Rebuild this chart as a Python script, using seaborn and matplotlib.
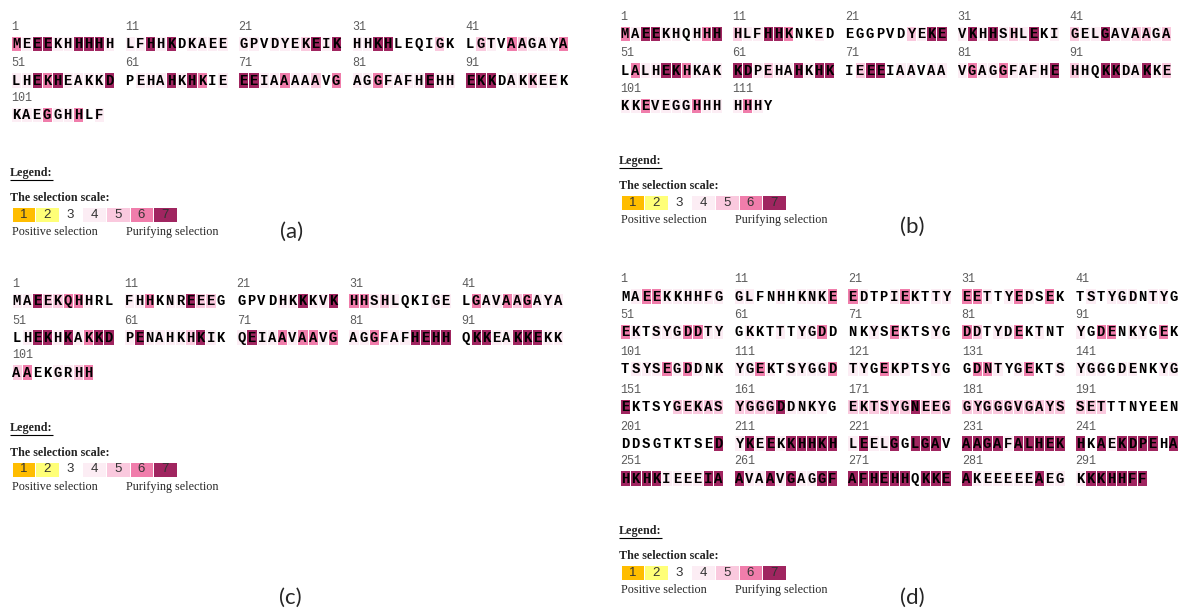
import numpy as np
import pandas as pd
import matplotlib
matplotlib.use("Agg")
import matplotlib.pyplot as plt
from matplotlib.colors import ListedColormap
import seaborn as sns

# ---------------------------------------------------------------------------
# Selection scale (1 = positive selection ... 7 = purifying selection)
# ---------------------------------------------------------------------------
SCALE_LEVELS = [1, 2, 3, 4, 5, 6, 7]
SCALE_COLORS = ["#FFBD00", "#FFFF78", "#FFFFFF", "#FCEDF4",
                "#FAC9DE", "#F07DAB", "#A02560"]

# ---------------------------------------------------------------------------
# Sequences (blocks of ten residues) and per-residue selection scores
# ---------------------------------------------------------------------------
SEQ_A = ["MEEEKHHHHH", "LFHHKDKAEE", "GPVDYEKEIK", "HHKHLEQIGK", "LGTVAAGAYA",
         "LHEKHEAKKD", "PEHAHKHKIE", "EEIAAAAAVG", "AGGFAFHEHH", "EKKDAKKEEK",
         "KAEGGHHLF"]
SCORE_A = ["6477447774", "4474734444", "4434445747", "4477333353", "3543654446",
           "4476744447", "3444747634", "7744644536", "4464444744", "7773445443",
           "444644634"]

SEQ_B = ["MAEEKHQHHH", "HLFHHKNKED", "EGGPVDYEKE", "VKHHSHLEKI", "GELGAVAAGA",
         "LALHEKHKAK", "KDPEHAHKHK", "IEEEIAAVAA", "VGAGGFAFHE", "HHQKKDAKKE",
         "KKEVEGGHHH", "HHHY"]
SCORE_B = ["6477443467", "5447763343", "3333335477", "4747454734", "5447445545",
           "3644776444", "7745447477", "3577344344", "4644644447", "5437744745",
           "4464444644", "4643"]

SEQ_C = ["MAEEKQHHRL", "FHHKNREEEG", "GPVDHKKKVK", "HHSHLQKIGE", "LGAVAAGAYA",
         "LHEKHKAKKD", "PENAHKHKIK", "QEIAAVAAVG", "AGGFAFHEHH", "QKKEAKKEKK",
         "AAEKGRHH"]
SCORE_C = ["4475566433", "4463447553", "3333447447", "6645433344", "3644656444",
           "3477474677", "4744445743", "4744646646", "4464447777", "3774477744",
           "56334456"]

SEQ_D = ["MAEEKKHHFG", "GLFNHHKNKE", "EDTPIEKTTY", "EETTYEDSEK", "TSTYGDNTYG",
         "EKTSYGDDTY", "GKKTTTYGDD", "NKYSEKTSYG", "DDTYDEKTNT", "YGDENKYGEK",
         "TSYSEGDDNK", "YGEKTSYGGD", "TYGEKPTSYG", "GDNTYGEKTS", "YGGGDENKYG",
         "EKTSYGEKAS", "YGGGDDNKYG", "EKTSYGNEEG", "GYGGGVGAYS", "SETTTNYEEN",
         "DDSGTKTSED", "YKEEKKHHKH", "LEELGGLGAV", "AAGAFALHEK", "HKAEKDPEHA",
         "HKHKIEEEIA", "AVAAVGAGGF", "AFHEHHQKKE", "AKEEEEEAEG", "KKKHHFF"]
SCORE_D = ["3466444444", "4433434446", "6433464344", "6643464363", "3434443443",
           "6434446644", "3433434463", "3343643343", "6534463433", "4366344363",
           "3444646434", "4464344446", "4436443343", "3664346334", "4443443344",
           "7333355555", "5555744443", "5555557555", "5555555555", "5553333333",
           "3333333337", "4747477777", "4744737773", "7777477777", "7374777737",
           "7777444477", "7447474477", "7777773777", "7444444744", "4777777"]

PANEL_TAGS = ["(a)", "(b)", "(c)", "(d)"]
LEGEND_TITLE = "Legend:"
SCALE_TITLE = "The selection scale:"
LOW_LABEL = "Positive selection"
HIGH_LABEL = "Purifying selection"

# ---------------------------------------------------------------------------
# Page geometry (pixels, origin top-left)
# ---------------------------------------------------------------------------
W, H, DPI = 1182, 615, 100
PER_LINE, BLOCK = 50, 10
NCOL = PER_LINE + PER_LINE // BLOCK - 1      # 50 residues + 4 spacer columns
BOX_H = 15.5                                  # height of one sequence line
NUM_DY = 16.5                                 # position numbers sit above each line
SEQ_SIZE = 10.0
CAP_PX = 0.659 * SEQ_SIZE * DPI / 72          # cap height of the residue letters

LAYOUT = [
    dict(x0=11.0, pitch=10.32, rows=[43.3, 80.0, 114.3],
         legend=(10, 173), tag=(292, 232)),
    dict(x0=619.5, pitch=10.22, rows=[33.3, 70.0, 105.7],
         legend=(619, 161), tag=(912, 227)),
    dict(x0=11.5, pitch=10.21, rows=[300.3, 337.0, 372.0],
         legend=(10, 428), tag=(290, 598)),
    dict(x0=620.0, pitch=10.34, rows=[296.0, 331.7, 368.3, 406.3, 443.0, 478.0],
         legend=(619, 531), tag=(912, 598)),
]

sns.set_theme(style="white")
plt.rcParams["font.family"] = ["DejaVu Sans"]

CMAP = ListedColormap(SCALE_COLORS)
SEQ_FONT = dict(fontfamily="Liberation Mono", fontweight="bold",
                fontsize=SEQ_SIZE, color="black")
NUM_FONT = dict(fontfamily="Liberation Mono", fontsize=8.5, color="#5c5c5c")
SERIF = "Liberation Serif"


def px_rect(x, y, w, h):
    """Figure-fraction rectangle from a top-left pixel box."""
    return [x / W, 1 - (y + h) / H, w / W, h / H]


def draw_sequence(fig, blocks, scores, lay):
    residues = "".join(blocks)
    values = [int(s) for s in "".join(scores)]
    n = len(residues)
    nlines = (n + PER_LINE - 1) // PER_LINE
    for li in range(nlines):
        grid = np.full((1, NCOL), np.nan)
        letters = np.full((1, NCOL), "", dtype=object)
        for j in range(PER_LINE):
            k = li * PER_LINE + j
            if k >= n:
                break
            col = j + j // BLOCK
            grid[0, col] = values[k]
            letters[0, col] = residues[k]
        yc = lay["rows"][li]
        ax = fig.add_axes(px_rect(lay["x0"], yc - BOX_H / 2,
                                  NCOL * lay["pitch"], BOX_H))
        sns.heatmap(pd.DataFrame(grid), annot=letters, fmt="", cmap=CMAP,
                    vmin=0.5, vmax=7.5, cbar=False, linewidths=0.5,
                    linecolor="white", xticklabels=False, yticklabels=False,
                    annot_kws=SEQ_FONT, ax=ax)
        ax.axis("off")
        # centre the capitals (not the full text box) inside each cell
        for t in ax.texts:
            x, y = t.get_position()
            t.set_verticalalignment("baseline")
            t.set_position((x, y + 0.5 * CAP_PX / BOX_H))
        # residue numbers at the start of every block of ten
        for b in range(PER_LINE // BLOCK):
            k = li * PER_LINE + b * BLOCK
            if k >= n:
                break
            ax.text(b * (BLOCK + 1) + 0.05, 0.5 - NUM_DY / BOX_H, str(k + 1),
                    ha="left", va="center", clip_on=False, **NUM_FONT)


def draw_legend(fig, ov, lx, ly):
    title = ov.text(lx, ly, LEGEND_TITLE, fontfamily=SERIF, fontweight="bold",
                    fontsize=8.7, ha="left", va="center")
    ov.text(lx, ly + 25, SCALE_TITLE, fontfamily=SERIF, fontweight="bold",
            fontsize=8.7, ha="left", va="center")
    ax = fig.add_axes(px_rect(lx + 1.7, ly + 41.5 - 7.5, 165, 15))
    sns.heatmap(pd.DataFrame([SCALE_LEVELS]), annot=True, fmt="d", cmap=CMAP,
                vmin=0.5, vmax=7.5, cbar=False, linewidths=0.5,
                linecolor="white", xticklabels=False, yticklabels=False,
                annot_kws=dict(color="#333333", fontsize=9.5,
                               fontfamily="Liberation Sans"), ax=ax)
    ax.axis("off")
    ov.text(lx + 2, ly + 59, LOW_LABEL, fontfamily=SERIF, fontsize=8.7,
            ha="left", va="center")
    ov.text(lx + 116, ly + 59, HIGH_LABEL, fontfamily=SERIF, fontsize=8.7,
            ha="left", va="center")
    return title


fig = plt.figure(figsize=(W / DPI, H / DPI), dpi=DPI)
fig.patch.set_facecolor("white")

ov = fig.add_axes([0, 0, 1, 1])
ov.set_xlim(0, W)
ov.set_ylim(H, 0)
ov.axis("off")

panels = [(SEQ_A, SCORE_A), (SEQ_B, SCORE_B), (SEQ_C, SCORE_C), (SEQ_D, SCORE_D)]
titles = []
for (seq, score), lay, tag in zip(panels, LAYOUT, PANEL_TAGS):
    draw_sequence(fig, seq, score, lay)
    titles.append(draw_legend(fig, ov, *lay["legend"]))
    ov.text(*lay["tag"], tag, fontfamily="Lato", fontsize=16,
            ha="center", va="center")

# underline the "Legend:" headings
fig.canvas.draw()
renderer = fig.canvas.get_renderer()
for t in titles:
    bb = t.get_window_extent(renderer)
    y = H - bb.y0 + 0.5
    ov.plot([bb.x0, bb.x1], [y, y], color="black", lw=0.8,
            solid_capstyle="butt")

fig.savefig("out.png", dpi=DPI, facecolor="white")
